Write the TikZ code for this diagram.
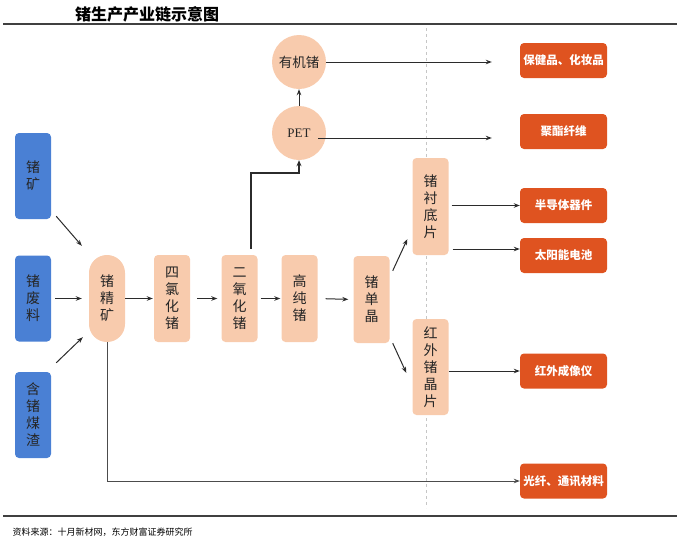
\documentclass[tikz,border=0pt]{standalone}
\usepackage{fontspec}
\setmainfont{Noto Sans CJK SC}
\newfontfamily\petfont{Liberation Serif}
\usetikzlibrary{arrows.meta}
\definecolor{peach}{HTML}{F8CBAD}
\definecolor{bluebox}{HTML}{4A80D4}
\definecolor{redbox}{HTML}{DF5320}
\definecolor{txt}{HTML}{262626}
\definecolor{arrc}{HTML}{2B2B2B}
\tikzset{
  vtext/.style={align=center,font=\fontsize{14}{17}\selectfont,text=txt,inner sep=0pt},
  srcbox/.style={vtext,fill=bluebox,rounded corners=4pt,minimum width=36pt,minimum height=86pt},
  procbox/.style={vtext,fill=peach,rounded corners=4pt,minimum width=36pt,minimum height=87pt},
  pillbox/.style={vtext,fill=peach,rounded corners=17.9pt,minimum width=36pt,minimum height=87pt},
  circbox/.style={circle,fill=peach,minimum size=54pt,inner sep=0pt,text=txt,font=\fontsize{13.5}{16}\selectfont},
  appbox/.style={fill=redbox,rounded corners=4pt,minimum width=87pt,minimum height=35pt,inner sep=0pt,text=white,font=\fontsize{11.5}{14}\selectfont\bfseries},
  arr/.style={draw=arrc,line width=1pt,-{Stealth[length=6pt,width=4.5pt]}},
  thickarr/.style={draw=arrc,line width=2pt,-{Stealth[length=6pt,width=5pt]}},
  rule/.style={draw=black!75,line width=1.2pt}
}
\begin{document}
\begin{tikzpicture}[x=1pt,y=-1pt]
\useasboundingbox (0,0) rectangle (680,539);
% title and rules
\node[font=\fontsize{16}{18}\selectfont\bfseries,text=black] (title) at (147,14) {锗生产产业链示意图};
\draw[rule] (3,24) -- (677,24);
\draw[rule] (3,516) -- (677,516);
\node[anchor=west,font=\fontsize{9}{11}\selectfont,text=black] (src) at (9,532) {资料来源：十月新材网，东方财富证券研究所};
% dashed divider
\draw[gray!45,line width=0.8pt,dash pattern=on 3pt off 3pt] (426,28) -- (426,508);
% sources
\node[srcbox] (kuang) at (33,176) {锗\\矿};
\node[srcbox] (feiliao) at (33,298.5) {锗\\废\\料};
\node[srcbox] (meizha) at (33,415) {含\\锗\\煤\\渣};
% process chain
\node[pillbox] (jing) at (107,298.5) {锗\\精\\矿};
\node[procbox] (silv) at (172,298.5) {四\\氯\\化\\锗};
\node[procbox] (eryang) at (239.5,298.5) {二\\氧\\化\\锗};
\node[procbox] (gaochun) at (299.5,298.5) {高\\纯\\锗};
\node[procbox] (danjing) at (371.5,299.5) {锗\\单\\晶};
\node[procbox,minimum height=97pt] (chendi) at (430.5,206.5) {锗\\衬\\底\\片};
\node[procbox,minimum height=96pt] (hongwai) at (430.5,367) {红\\外\\锗\\晶\\片};
% circles
\node[circbox] (youji) at (299,62) {有机锗};
\node[circbox,font=\petfont\fontsize{13}{15}\selectfont] (pet) at (299,133) {PET};
% applications
\node[appbox] (baojian) at (563.5,60.5) {保健品、化妆品};
\node[appbox] (juzhi) at (563.5,131.5) {聚酯纤维};
\node[appbox] (semi) at (563.5,205.5) {半导体器件};
\node[appbox] (solar) at (563.5,255.5) {太阳能电池};
\node[appbox] (imager) at (563.5,371) {红外成像仪};
\node[appbox] (fiber) at (563.5,481) {光纤、通讯材料};
% source arrows
\draw[arr] ([xshift=5pt,yshift=3pt]kuang.south east) -- ([xshift=-7pt,yshift=9pt]jing.north west);
\draw[arr,shorten <=4pt,shorten >=7pt] (feiliao.east) -- (jing.west);
\draw[arr] ([xshift=5pt,yshift=9pt]meizha.north east) -- ([xshift=-6pt,yshift=5pt]jing.south west);
% chain arrows
\draw[arr,shorten >=1pt] (jing.east) -- (silv.west);
\draw[arr,shorten <=7pt,shorten >=4pt] (silv.east) -- (eryang.west);
\draw[arr,shorten <=3pt,shorten >=1pt] (eryang.east) -- (gaochun.west);
\draw[arr,shorten <=8pt,shorten >=5pt] (gaochun.east) -- (danjing.west);
\draw[thickarr] ([xshift=11.5pt,yshift=6pt]eryang.north) -- ++(0,-76) -| (pet.south);
\draw[arr] (pet.north) -- (youji.south);
\draw[arr,shorten >=28pt] (youji.east) -- (youji.east -| baojian.west);
\draw[arr,shorten >=28pt] ([xshift=-8pt,yshift=-5pt]pet.east) -- ([yshift=-6.5pt]juzhi.west);
% branch arrows
\draw[arr] ([xshift=3pt,yshift=-15pt]danjing.north east) -- ([xshift=-5pt,yshift=16pt]chendi.south west);
\draw[arr] ([xshift=3pt]danjing.south east) -- ([xshift=-6pt,yshift=-54pt]hongwai.north west);
\draw[arr,shorten <=3pt] (chendi.east |- semi.west) -- (semi.west);
\draw[arr,shorten <=4pt] ([yshift=6.5pt]chendi.east |- solar.west) -- ([yshift=6.5pt]solar.west);
\draw[arr] (hongwai.east |- imager.west) -- (imager.west);
\draw[arr,draw=black!70] (jing.south) |- (fiber.west);
\end{tikzpicture}
\end{document}
